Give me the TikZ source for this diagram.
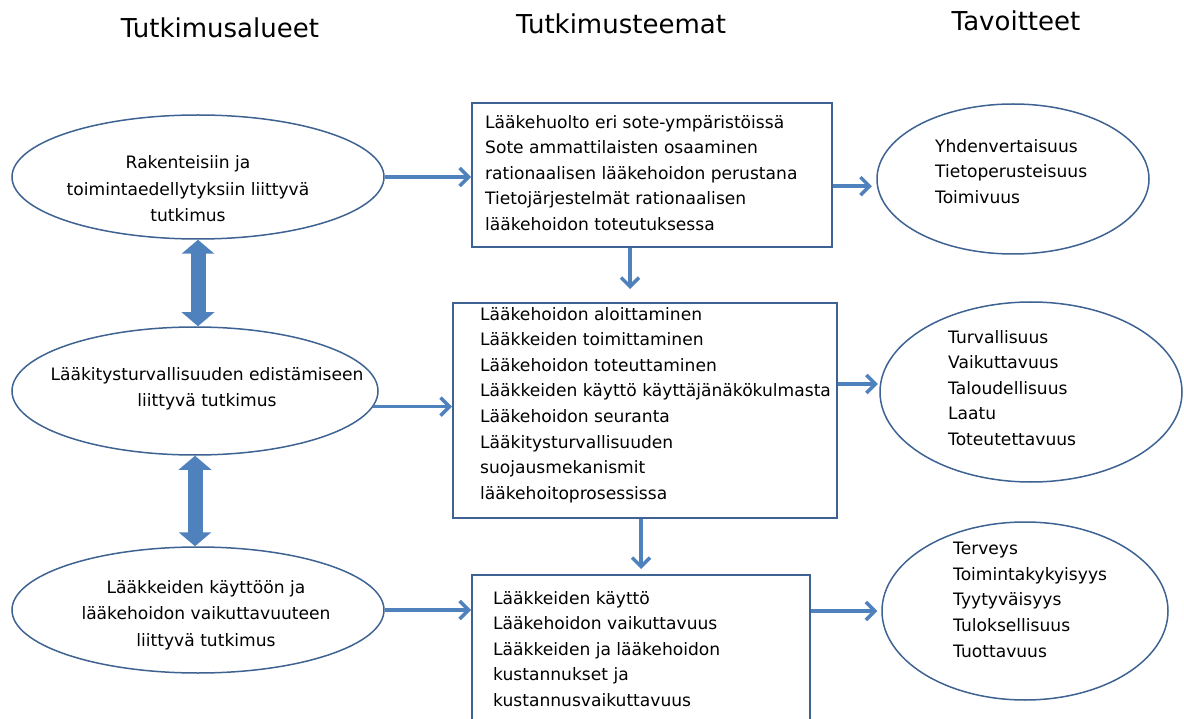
\documentclass[tikz,border=0pt]{standalone}
\usepackage{fontspec}
\setmainfont{DejaVu Sans}
\definecolor{KaaviBlue}{RGB}{79, 129, 189}
\definecolor{KaaviLine}{RGB}{62, 98, 145}
\usetikzlibrary{arrows.meta, positioning, calc, shapes.geometric}
\newcommand{\teksti}{\fontsize{17.1}{25.6}\selectfont}
\newcommand{\otsikko}{\fontsize{26}{30}\selectfont}

\begin{document}
\begin{tikzpicture}[x=1pt, y=-1pt,
    alue/.style={ellipse, draw=KaaviLine, line width=1.5pt, inner sep=0pt},
    teema/.style={rectangle, draw=KaaviLine, line width=2pt, inner sep=0pt},
    rivit/.style={font=\teksti, inner sep=0pt, align=left, anchor=north west},
    keski/.style={font=\fontsize{17.1}{26.5}\selectfont, inner sep=0pt, align=center},
    virta/.style={draw=KaaviBlue, line width=3.5pt, -{Straight Barb[length=9pt, width=18pt]}},
    kaksi/.style={draw=KaaviBlue, line width=15pt,
                  {Triangle[length=14pt, width=32pt]}-{Triangle[length=14pt, width=32pt]}}]
        \clip (0,0) rectangle (1184,719);
        \node[font=\otsikko] (otsAlue)  at (220,28) {Tutkimusalueet};
        \node[font=\otsikko] (otsTeema) at (621,24) {Tutkimusteemat};
        \node[font=\otsikko] (otsTavo)  at (1016,21) {Tavoitteet};

        \node[alue, minimum width=372pt, minimum height=124pt] (alue1) at (198,177) {};
        \node[alue, minimum width=366pt, minimum height=128pt] (alue2) at (195,391) {};
        \node[alue, minimum width=372pt, minimum height=126pt] (alue3) at (198,610) {};
        \node[keski] (alue1txt) at (188,189)
             {Rakenteisiin ja\\toimintaedellytyksiin liittyvä\\tutkimus};
        \node[keski] (alue2txt) at (207,389)
             {Lääkitysturvallisuuden edistämiseen\\liittyvä tutkimus};
        \node[keski] (alue3txt) at (206,615)
             {Lääkkeiden käyttöön ja\\lääkehoidon vaikuttavuuteen\\liittyvä tutkimus};

        \node[teema, minimum width=360pt, minimum height=144pt] (teema1) at (652,175) {};
        \node[teema, minimum width=384pt, minimum height=215pt] (teema2) at (645,410.5) {};
        \node[teema, minimum width=338pt, minimum height=165pt] (teema3) at (641,657.5) {};
        \node[rivit] (teema1txt) at (485,115)
             {Lääkehuolto eri sote-ympäristöissä\\Sote ammattilaisten osaaminen\\
              rationaalisen lääkehoidon perustana\\Tietojärjestelmät rationaalisen\\
              lääkehoidon toteutuksessa};
        \node[rivit] (teema2txt) at (480,307)
             {Lääkehoidon aloittaminen\\Lääkkeiden toimittaminen\\Lääkehoidon toteuttaminen\\
              Lääkkeiden käyttö käyttäjänäkökulmasta\\Lääkehoidon seuranta\\
              Lääkitysturvallisuuden\\suojausmekanismit\\lääkehoitoprosessissa};
        \node[rivit] (teema3txt) at (493,591)
             {Lääkkeiden käyttö\\Lääkehoidon vaikuttavuus\\Lääkkeiden ja lääkehoidon\\
              kustannukset ja\\kustannusvaikuttavuus};

        \node[alue, minimum width=272pt, minimum height=150pt] (tav1) at (1013,179) {};
        \node[alue, minimum width=302pt, minimum height=180pt] (tav2) at (1031,392) {};
        \node[alue, minimum width=286pt, minimum height=178pt] (tav3) at (1025,611) {};
        \node[rivit] (tav1txt) at (935,139)
             {Yhdenvertaisuus\\Tietoperusteisuus\\Toimivuus};
        \node[rivit] (tav2txt) at (948,330)
             {Turvallisuus\\Vaikuttavuus\\Taloudellisuus\\Laatu\\Toteutettavuus};
        \node[rivit] (tav3txt) at (953,542)
             {Terveys\\Toimintakykyisyys\\Tyytyväisyys\\Tuloksellisuus\\Tuottavuus};

        \draw[kaksi] (alue1.south) -- (alue1.south |- alue2.north);
        \draw[kaksi] (alue2.south) -- (alue2.south |- alue3.north);

        \draw[virta] (alue1.east) -- (alue1.east -| teema1.west);
        \draw[virta] (alue2.-5) -- (alue2.-5 -| teema2.west);
        \draw[virta] (alue3.east) -- (alue3.east -| teema3.west);
        \draw[virta, shorten >=5pt] (teema1.east |- tav1.183) -- (tav1.183);
        \draw[virta, shorten >=2pt] (teema2.east |- tav2.177) -- (tav2.177);
        \draw[virta, shorten >=4pt] (teema3.east |- tav3.west) -- (tav3.west);
        \draw[virta, shorten >=13pt] ([xshift=-22pt]teema1.south)
             -- ([xshift=-22pt]teema1.south |- teema2.north);
        \draw[virta, shorten >=5pt] (teema2.south -| teema3.north) -- (teema3.north);
      \end{tikzpicture}
\end{document}
